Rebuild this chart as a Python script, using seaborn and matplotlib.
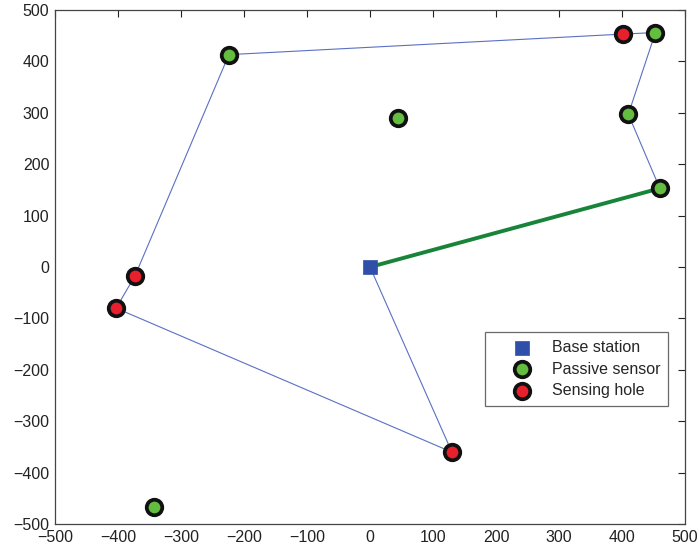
import matplotlib
matplotlib.use("Agg")
import matplotlib.pyplot as plt
import seaborn as sns
import pandas as pd

# Node positions
base_x = [0]
base_y = [0]
sensor_x = [-224, 453, 410, 460, 45, -343]
sensor_y = [413, 456, 297, 153, 289, -466]
hole_x = [402, -373, -403, 130]
hole_y = [453, -17, -80, -360]

# Tour visiting the nodes, starting from the base station
tour_x = [0, 130, -403, -373, -224, 402, 453, 410, 460]
tour_y = [0, -360, -80, -17, 413, 453, 456, 297, 153]
# Return link back to the base station
return_x = [460, 0]
return_y = [153, 0]

sns.set_style("white")
plt.rcParams["font.family"] = ["Liberation Sans", "DejaVu Sans"]

fig = plt.figure(figsize=(6.99, 5.5), dpi=100)
ax = fig.add_axes([0.0787, 0.047, 0.9013, 0.935])

tour = pd.DataFrame({"x": tour_x, "y": tour_y})
ret = pd.DataFrame({"x": return_x, "y": return_y})
sns.lineplot(data=tour, x="x", y="y", sort=False, estimator=None, ax=ax,
             color="#5b6fc4", linewidth=0.8, zorder=2)
sns.lineplot(data=ret, x="x", y="y", sort=False, estimator=None, ax=ax,
             color="#17843a", linewidth=2.8, zorder=2)

sns.scatterplot(x=base_x, y=base_y, ax=ax, marker="s", s=105, color="#2f4fa8",
                edgecolor="#2f4fa8", linewidth=0.5, zorder=4, label="Base station")
sns.scatterplot(x=sensor_x, y=sensor_y, ax=ax, marker="o", s=125, color="#63bd3f",
                edgecolor="#111111", linewidth=2.7, zorder=4, label="Passive sensor")
sns.scatterplot(x=hole_x, y=hole_y, ax=ax, marker="o", s=125, color="#e8202e",
                edgecolor="#111111", linewidth=2.7, zorder=4, label="Sensing hole")

ax.set_xlim(-500, 500)
ax.set_ylim(-500, 500)
ax.set_xticks(range(-500, 501, 100))
ax.set_yticks(range(-500, 501, 100))
ax.set_xlabel("")
ax.set_ylabel("")
ax.tick_params(direction="in", length=5, width=0.8, top=True, right=True,
               labelsize=11.5, colors="#222222")
ax.tick_params(axis="x", pad=4)
ax.tick_params(axis="y", pad=4)
for sp in ax.spines.values():
    sp.set_color("#444444")
    sp.set_linewidth(0.9)

leg = ax.legend(loc="upper left", bbox_to_anchor=(0.683, 0.374), fontsize=11.5,
                frameon=True, fancybox=False, edgecolor="#444444",
                borderpad=0.5, labelspacing=0.42, handlelength=3.6,
                handletextpad=0.05, borderaxespad=0)
leg.get_frame().set_linewidth(0.9)

fig.savefig("out.png", dpi=100)
